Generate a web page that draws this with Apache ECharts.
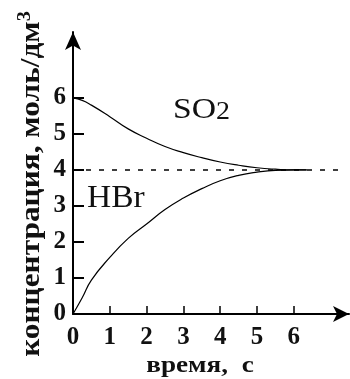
<!DOCTYPE html>
<html>
<head>
<meta charset="utf-8">
<script src="https://cdn.jsdelivr.net/npm/echarts@6/dist/echarts.min.js"></script>
<style>
html,body{margin:0;padding:0;background:#fff;}
#c{width:350px;height:379px;}
</style>
</head>
<body>
<div id="c"></div>
<script>
// time, s
var time = [0, 0.25, 0.5, 1, 1.5, 2, 2.5, 3, 3.5, 4, 4.5, 5, 5.5, 6, 6.35];
// SO2 concentration, mol/dm3
var so2 = [6, 5.93, 5.8, 5.48, 5.14, 4.88, 4.65, 4.48, 4.34, 4.22, 4.13, 4.06, 4.02, 4.0, 4.0];
// HBr concentration, mol/dm3
var hbr = [0, 0.45, 0.94, 1.57, 2.1, 2.5, 2.9, 3.22, 3.48, 3.7, 3.85, 3.94, 3.99, 4.0, 4.0];
// equilibrium level (dashed)
var eqTime = [0, 7.25];
var eqLevel = [4, 4];
var xTicks = [0, 1, 2, 3, 4, 5, 6];
var yTicks = [0, 1, 2, 3, 4, 5, 6];

var serif = '"Liberation Serif","Times New Roman",serif';
function pairs(xs, ys){ return xs.map(function(x,i){return [x, ys[i]];}); }

var chart = echarts.init(document.getElementById('c'), null, {renderer:'canvas'});
chart.setOption({
  animation:false,
  backgroundColor:'#fff',
  grid:{left:73, right:1, top:32, bottom:65, containLabel:false},
  xAxis:{
    type:'value', min:0, max:7.5, interval:1,
    axisLine:{show:true, lineStyle:{color:'#000', width:2}, symbol:['none','arrow'], symbolSize:[12,16]},
    axisTick:{show:true, inside:true, length:8, lineStyle:{color:'#000', width:1.5}, customValues:[1,2,3,4,5,6]},
    axisLabel:{customValues:xTicks, margin:11, fontFamily:serif, fontWeight:'bold', fontSize:25, color:'#111'},
    splitLine:{show:false}
  },
  yAxis:{
    type:'value', min:0, max:7.83, interval:1,
    axisLine:{show:true, lineStyle:{color:'#000', width:2}, symbol:['none','arrow'], symbolSize:[12,18]},
    axisTick:{show:true, inside:true, length:11, lineStyle:{color:'#000', width:2}, customValues:[1,2,3,4,5,6]},
    axisLabel:{customValues:yTicks, margin:7, fontFamily:serif, fontWeight:'bold', fontSize:25, color:'#111'},
    splitLine:{show:false}
  },
  series:[
    {type:'line', name:'eq', data:pairs(eqTime, eqLevel), symbol:'none', silent:true,
     lineStyle:{color:'#000', width:1.5, type:[5,8]}, z:1},
    {type:'line', name:'SO2', data:pairs(time, so2), symbol:'none', smooth:true,
     lineStyle:{color:'#000', width:1.2}, z:2},
    {type:'line', name:'HBr', data:pairs(time, hbr), symbol:'none', smooth:true,
     lineStyle:{color:'#000', width:1.2}, z:2}
  ],
  graphic:[
    {type:'text', x:32, y:184, rotation:Math.PI/2, scaleX:1.12,
     style:{text:'концентрация, моль/дм{sup|3}', align:'center', verticalAlign:'middle',
       fontFamily:serif, fontWeight:'bold', fontSize:28, fill:'#111',
       rich:{sup:{fontFamily:serif, fontWeight:'bold', fontSize:18, fill:'#111', padding:[0,0,14,0]}}}},
    {type:'text', x:200, y:366, scaleX:1.18,
     style:{text:'время,  с', align:'center', verticalAlign:'middle',
       fontFamily:serif, fontWeight:'bold', fontSize:23, fill:'#111'}},
    {type:'text', x:173, y:110, scaleX:1.12, style:{text:'{a|SO}{b|2}', verticalAlign:'middle', rich:{
      a:{fontFamily:serif, fontSize:30, fill:'#111'},
      b:{fontFamily:serif, fontSize:25, fill:'#111', padding:[4,0,0,0]}}}},
    {type:'text', x:87, y:199, scaleX:1.08, style:{text:'HBr', verticalAlign:'middle', fontFamily:serif, fontSize:31, fill:'#111'}}
  ]
});
</script>
</body>
</html>
